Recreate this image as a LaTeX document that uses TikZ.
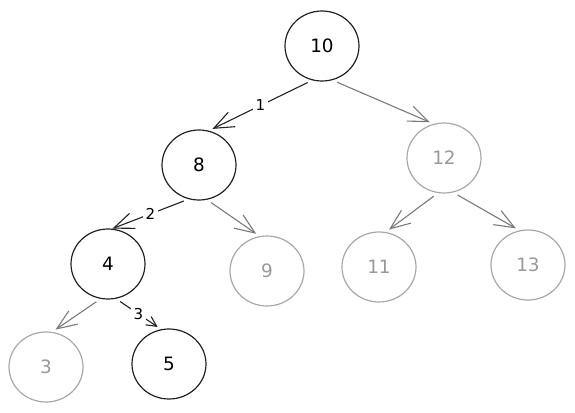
\documentclass[tikz,border=0pt]{standalone}
\usepackage{fontspec}
\setmainfont{DejaVu Sans}
\usetikzlibrary{shapes.geometric,arrows.meta}
\definecolor{darkline}{HTML}{222222}
\definecolor{lightline}{HTML}{A8A8A8}
\definecolor{lighttext}{HTML}{999999}
\definecolor{greyedge}{HTML}{7A7A7A}

\begin{document}
\begin{tikzpicture}[%
      x=0.5pt, y=-0.5pt,
      key/.style={ellipse, draw=darkline, line width=0.6pt, text=black,
        minimum width=37pt, minimum height=35pt, inner sep=0pt,
        font=\fontsize{9.2}{11}\selectfont},
      faded/.style={key, draw=lightline, text=lighttext},
      link/.style={draw=darkline, line width=0.55pt,
        -{Straight Barb[length=10pt,width=8pt]},
        shorten <=2.5pt, shorten >=2pt},
      greylink/.style={link, draw=greyedge},
      step label/.style={fill=white, inner sep=1.5pt,
        font=\fontsize{7.5}{9}\selectfont},
      ]
      \useasboundingbox (0,0) rectangle (575,413);

      \node [key] (n10) at (322,46) {10};
      \node [key] (n8) at (199,165) {8};
      \node [faded] (n12) at (444,158) {12};
      \node [key] (n4) at (108,264) {4};
      \node [faded] (n9) at (267,271) {9};
      \node [faded] (n11) at (379,267) {11};
      \node [faded] (n13) at (528,265) {13};
      \node [faded] (n3) at (46,367) {3};
      \node [key] (n5) at (169,364) {5};

      \draw [link] (n10.254) -- node [step label] {1} (n8.74);
      \draw [greylink] (n10.287) -- (n12.107);
      \draw [link, shorten >=0pt] (n8.253) -- node [step label] {2} (n4.83);
      \draw [greylink] (n8.283) -- (n9.102);
      \draw [greylink] (n12.260) -- (n11.79);
      \draw [greylink] (n12.285) -- (n13.104);
      \draw [greylink] (n4.258) -- (n3.80);
      \draw [link, -{Straight Barb[length=5pt,width=5pt]}] (n4.283) -- node [step label] {3} (n5.103);
\end{tikzpicture}
\end{document}
